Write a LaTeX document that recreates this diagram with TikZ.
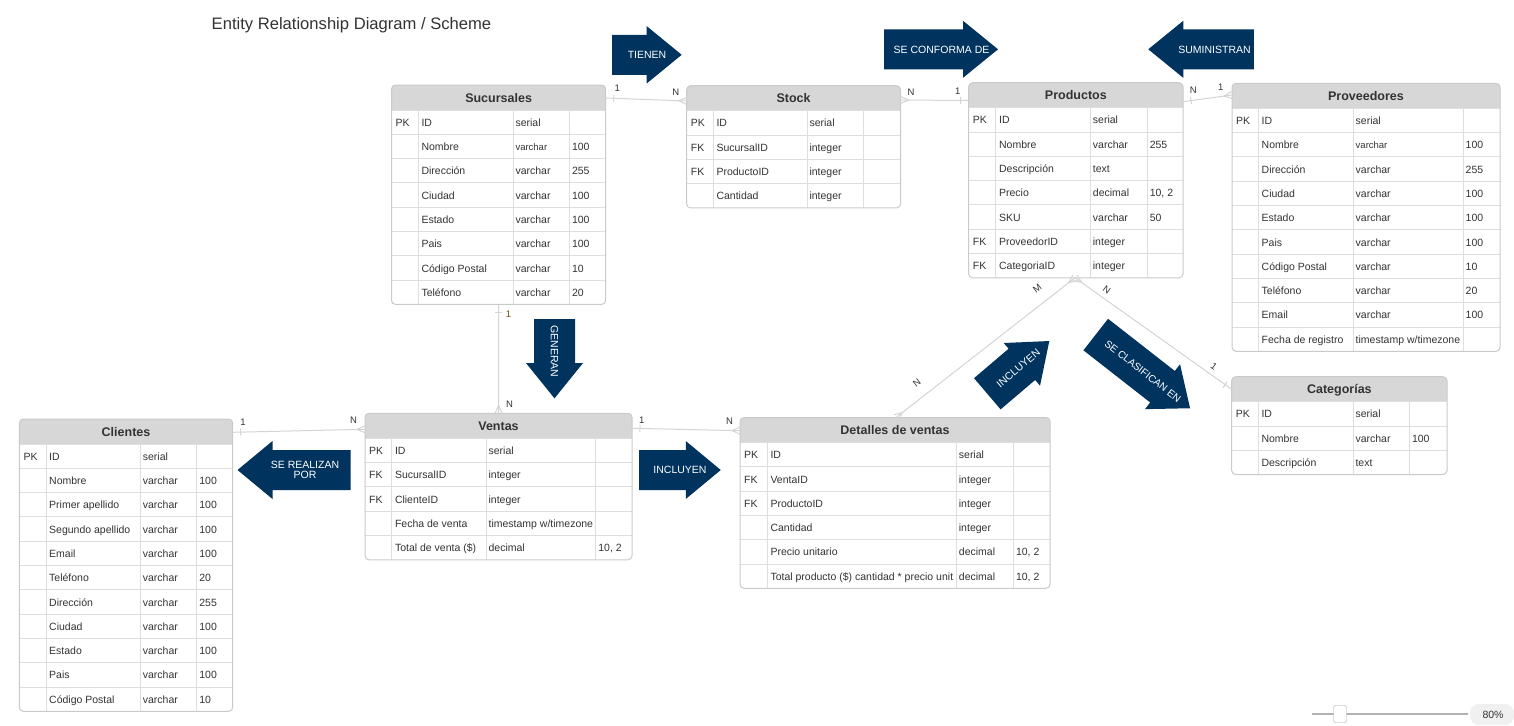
\documentclass[tikz,border=0pt]{standalone}
\usepackage{fontspec}
\setmainfont{Liberation Sans}
\usetikzlibrary{calc}
\definecolor{hdr}{HTML}{D7D7D7}
\definecolor{bord}{HTML}{CACACA}
\definecolor{gridc}{HTML}{DEDEDE}
\definecolor{txt}{HTML}{333333}
\definecolor{conn}{HTML}{D4D4D4}
\definecolor{navy}{HTML}{00335E}
\definecolor{brown1}{HTML}{7A5200}
\tikzset{
  tbox/.style={draw=bord, line width=1pt, rounded corners=4pt, inner sep=0pt, outer sep=0pt},
  gridl/.style={draw=gridc, line width=1pt},
  htitle/.style={anchor=base, inner sep=0pt, text=txt, font=\fontsize{12.5}{14}\selectfont\bfseries},
  cell/.style={anchor=base west, inner sep=0pt, text=txt, font=\fontsize{10.5}{12}\selectfont},
  connl/.style={draw=conn, line width=1pt},
  lbl/.style={inner sep=0pt, text=txt, font=\fontsize{9.5}{11}\selectfont},
  atext/.style={inner sep=0pt, text=white, align=center, font=\fontsize{10.5}{12}\selectfont},
}
\newcommand\smv{{\fontsize{9.5}{11}\selectfont varchar}}
\newcommand\etable[9]{%
  \def\tN{#1}\def\tL{#2}\def\tT{#3}\def\tR{#4}\def\cA{#7}\def\cB{#8}\def\cC{#9}%
  \pgfmathsetmacro\tB{#3+25+#5*24.3}%
  \pgfmathsetmacro\tW{#4-#2}%
  \pgfmathsetmacro\tH{\tB-#3}%
  \pgfmathtruncatemacro\tM{#5-1}%
  \fill[hdr, rounded corners=4pt] (#2,#3) rectangle (#4,#3+25);
  \fill[hdr] (#2,#3+12) rectangle (#4,#3+25);
  \draw[gridl] (#2,#3+25) -- (#4,#3+25);
  \foreach \ii in {1,...,\tM} {\draw[gridl] (#2,#3+25+\ii*24.3) -- (#4,#3+25+\ii*24.3);}
  \foreach \vx in {#7,#8,#9} {\draw[gridl] (\vx,#3+25) -- (\vx,\tB);}
  \node[tbox, minimum width=\tW pt, minimum height=\tH pt, anchor=north west] (#1) at (#2,#3) {};
  \node[htitle] (#1-title) at ({(#2+#4)/2},#3+17) {#6};
}
\newcommand\erow[5]{%
  \pgfmathsetmacro\ry{\tT+25+(#1-1)*24.3+16.2}%
  \node[cell] (\tN-#1-k) at (\tL+4,\ry) {#2};
  \node[cell] (\tN-#1-n) at (\cA+3,\ry) {#3};
  \node[cell] (\tN-#1-t) at (\cB+2,\ry) {#4};
  \node[cell] (\tN-#1-s) at (\cC+2.5,\ry) {#5};
}
\newcommand\blockarrow[7]{%
  \begin{scope}[shift={(#1,#2)},rotate=#3]
    \fill[navy] ({-(#4)/2},{-(#5)/2}) -- ({(#4)/2-(#7)},{-(#5)/2}) -- ({(#4)/2-(#7)},{-(#6)/2}) -- ({(#4)/2},0) -- ({(#4)/2-(#7)},{(#6)/2}) -- ({(#4)/2-(#7)},{(#5)/2}) -- ({-(#4)/2},{(#5)/2}) -- cycle;
  \end{scope}}
\newcommand\onemark[2]{\draw[connl] ($(#1)!8pt!(#2)!3.5pt!90:(#2)$) -- ($(#1)!8pt!(#2)!3.5pt!-90:(#2)$);}
\newcommand\manymark[2]{\draw[connl] ($(#1)!3.5pt!90:(#2)$) -- ($(#1)!8pt!(#2)$) -- ($(#1)!3.5pt!-90:(#2)$);}
\begin{document}
\begin{tikzpicture}[x=1pt,y=-1pt]
\fill[white] (0,0) rectangle (1514,725);
\useasboundingbox (0,0) rectangle (1514,725);

\node[anchor=base west, inner sep=0pt, text=txt, font=\fontsize{16.6}{19}\selectfont] (title) at (211.5,30) {Entity Relationship Diagram / Scheme};

% ---------- tables ----------
\etable{suc}{391.5}{85}{605.7}{8}{Sucursales}{418.3}{513.3}{569.3}
\erow{1}{PK}{ID}{serial}{}
\erow{2}{}{Nombre}{\smv}{100}
\erow{3}{}{Dirección}{varchar}{255}
\erow{4}{}{Ciudad}{varchar}{100}
\erow{5}{}{Estado}{varchar}{100}
\erow{6}{}{Pais}{varchar}{100}
\erow{7}{}{Código Postal}{varchar}{10}
\erow{8}{}{Teléfono}{varchar}{20}

\etable{stk}{686.7}{85.7}{900.5}{4}{Stock}{713.3}{807.3}{863.3}
\erow{1}{PK}{ID}{serial}{}
\erow{2}{FK}{SucursalID}{integer}{}
\erow{3}{FK}{ProductoID}{integer}{}
\erow{4}{}{Cantidad}{integer}{}

\etable{prod}{968.7}{82.7}{1183}{7}{Productos}{995.9}{1090.7}{1147.1}
\erow{1}{PK}{ID}{serial}{}
\erow{2}{}{Nombre}{varchar}{255}
\erow{3}{}{Descripción}{text}{}
\erow{4}{}{Precio}{decimal}{10, 2}
\erow{5}{}{SKU}{varchar}{50}
\erow{6}{FK}{ProveedorID}{integer}{}
\erow{7}{FK}{CategoriaID}{integer}{}

\etable{prov}{1232}{83.3}{1500}{10}{Proveedores}{1258.5}{1353.5}{1463}
\erow{1}{PK}{ID}{serial}{}
\erow{2}{}{Nombre}{\smv}{100}
\erow{3}{}{Dirección}{varchar}{255}
\erow{4}{}{Ciudad}{varchar}{100}
\erow{5}{}{Estado}{varchar}{100}
\erow{6}{}{Pais}{varchar}{100}
\erow{7}{}{Código Postal}{varchar}{10}
\erow{8}{}{Teléfono}{varchar}{20}
\erow{9}{}{Email}{varchar}{100}
\erow{10}{}{Fecha de registro}{timestamp w/timezone}{}

\etable{cat}{1231.7}{376.7}{1447}{3}{Categorías}{1258.3}{1353.3}{1409.3}
\erow{1}{PK}{ID}{serial}{}
\erow{2}{}{Nombre}{varchar}{100}
\erow{3}{}{Descripción}{text}{}

\etable{ven}{365}{413.3}{632}{5}{Ventas}{391.8}{486.4}{595.7}
\erow{1}{PK}{ID}{serial}{}
\erow{2}{FK}{SucursalID}{integer}{}
\erow{3}{FK}{ClienteID}{integer}{}
\erow{4}{}{Fecha de venta}{timestamp w/timezone}{}
\erow{5}{}{Total de venta (\$)}{decimal}{10, 2}

\etable{cli}{19.3}{419}{232.7}{11}{Clientes}{46}{140.7}{196.7}
\erow{1}{PK}{ID}{serial}{}
\erow{2}{}{Nombre}{varchar}{100}
\erow{3}{}{Primer apellido}{varchar}{100}
\erow{4}{}{Segundo apellido}{varchar}{100}
\erow{5}{}{Email}{varchar}{100}
\erow{6}{}{Teléfono}{varchar}{20}
\erow{7}{}{Dirección}{varchar}{255}
\erow{8}{}{Ciudad}{varchar}{100}
\erow{9}{}{Estado}{varchar}{100}
\erow{10}{}{Pais}{varchar}{100}
\erow{11}{}{Código Postal}{varchar}{10}

\etable{det}{740}{417.5}{1050}{6}{Detalles de ventas}{767.3}{956.7}{1013.3}
\erow{1}{PK}{ID}{serial}{}
\erow{2}{FK}{VentaID}{integer}{}
\erow{3}{FK}{ProductoID}{integer}{}
\erow{4}{}{Cantidad}{integer}{}
\erow{5}{}{Precio unitario}{decimal}{10, 2}
\erow{6}{}{Total producto (\$) cantidad * precio unit}{decimal}{10, 2}

% ---------- connectors ----------
\coordinate (e1a) at ($(suc.north east)+(0,13)$);
\coordinate (e1b) at ($(stk.north west)+(0,15.3)$);
\coordinate (e2a) at ($(stk.north east)+(0,14.3)$);
\coordinate (e2b) at ($(prod.north west)+(0,17.8)$);
\coordinate (e3a) at ($(prod.north east)+(0,19)$);
\coordinate (e3b) at ($(prov.north west)+(0,11.7)$);
\coordinate (e4a) at (suc.south);
\coordinate (e4b) at ($(ven.north west)+(133.6,0)$);
\coordinate (e5a) at ($(cli.north east)+(0,13.3)$);
\coordinate (e5b) at ($(ven.north west)+(0,16)$);
\coordinate (e6a) at ($(ven.north east)+(0,15)$);
\coordinate (e6b) at ($(det.north west)+(0,13.2)$);
\coordinate (e7a) at ($(prod.south west)+(106.3,0)$);
\coordinate (e7b) at ($(det.north west)+(156,0)$);
\coordinate (e8b) at ($(cat.north west)+(0,12.6)$);

\draw[connl] (e1a) -- (e1b); \onemark{e1a}{e1b} \manymark{e1b}{e1a}
\draw[connl] (e2a) -- (e2b); \manymark{e2a}{e2b} \onemark{e2b}{e2a}
\draw[connl] (e3a) -- (e3b); \onemark{e3a}{e3b} \manymark{e3b}{e3a}
\draw[connl] (e4a) -- (e4b); \onemark{e4a}{e4b} \manymark{e4b}{e4a}
\draw[connl] (e5a) -- (e5b); \onemark{e5a}{e5b} \manymark{e5b}{e5a}
\draw[connl] (e6a) -- (e6b); \onemark{e6a}{e6b} \manymark{e6b}{e6a}
\draw[connl] (e7a) -- (e7b); \manymark{e7a}{e7b} \manymark{e7b}{e7a}
\draw[connl] (e7a) -- (e8b); \manymark{e7a}{e8b} \onemark{e8b}{e7a}

% ---------- cardinality labels ----------
\node[lbl] (l1a) at (617.3,88) {1};
\node[lbl] (l1b) at (675.7,92) {N};
\node[lbl] (l2a) at (911,92.3) {N};
\node[lbl] (l2b) at (957.7,91) {1};
\node[lbl] (l3a) at (1193.3,90.7) {N};
\node[lbl] (l3b) at (1220.7,87) {1};
\node[lbl, text=brown1] (l4a) at (508.5,314.5) {1};
\node[lbl] (l4b) at (509.5,404) {N};
\node[lbl] (l5a) at (243,422.7) {1};
\node[lbl] (l5b) at (353.6,420) {N};
\node[lbl] (l6a) at (641.8,420) {1};
\node[lbl] (l6b) at (729.6,421) {N};
\node[lbl, rotate=38] (l7a) at (1037.3,288.3) {M};
\node[lbl, rotate=38] (l7b) at (916.7,382.7) {N};
\node[lbl, rotate=-36] (l8a) at (1106.7,290) {N};
\node[lbl, rotate=-36] (l8b) at (1214,366) {1};

% ---------- block arrows ----------
\blockarrow{646.85}{54.8}{0}{69.7}{40}{57.3}{35}
\node[atext] (tienen) at (647,55) {TIENEN};
\blockarrow{941}{49.3}{0}{114}{40}{57}{35}
\node[atext] (conforma) at (941.5,49.5) {SE CONFORMA DE};
\blockarrow{1201}{49.3}{180}{105.5}{40}{57}{35}
\node[atext] (suministran) at (1214.5,49.5) {SUMINISTRAN};
\blockarrow{554.5}{358.7}{-90}{79.3}{41}{57}{35.3}
\node[atext, rotate=-90] (generan) at (554.5,351.5) {GENERAN};
\blockarrow{294.1}{470}{180}{113.2}{40}{58}{35}
\node[atext] (realizan) at (305,470) {SE REALIZAN\\[-1.5pt]POR};
\blockarrow{679.9}{470}{0}{81.7}{40}{58}{35}
\node[atext] (incluyen1) at (680,470) {INCLUYEN};
\blockarrow{1018.3}{367.4}{40.4}{81.4}{41}{56}{36}
\node[atext, rotate=40.4] (incluyen2) at (1018.3,368.3) {INCLUYEN};
\blockarrow{1142.9}{371.4}{-38}{119.7}{40}{57}{35}
\node[atext, rotate=-38, font=\fontsize{10.2}{12}\selectfont] (clasifican) at (1142.8,371.2) {SE CLASIFICAN EN};

% ---------- zoom slider ----------
\draw[draw=gray!60, line width=1.5pt] (1312,714) -- (1468,714);
\fill[gray!12, rounded corners=9pt] (1470,704) rectangle (1514,725);
\node[draw=gray!70, fill=white, rounded corners=2pt, minimum width=13pt, minimum height=17pt, inner sep=0pt] (knob) at (1340,714) {};
\node[inner sep=0pt, text=txt, font=\fontsize{10.5}{12}\selectfont] (zoomlbl) at (1493,715) {80\%};
\end{tikzpicture}
\end{document}
